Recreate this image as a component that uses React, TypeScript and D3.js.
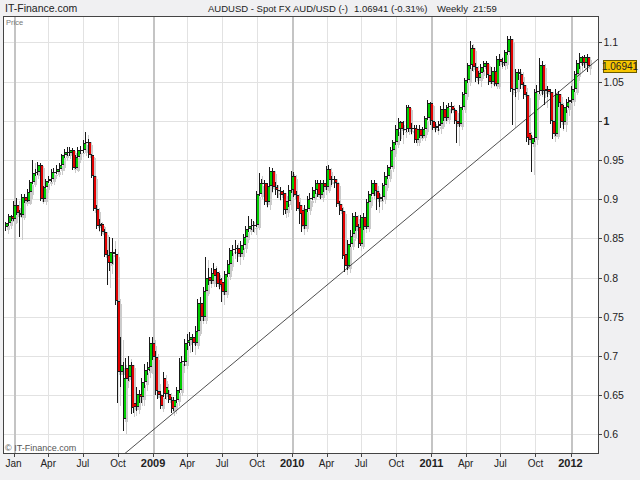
import { useEffect, useRef } from "react";
import * as d3 from "d3";

// weekly candles, first bar dated below, one bar every 7 days
const firstBar = "2007-12-13";

const opens = [
  0.864, 0.869, 0.878, 0.874, 0.893, 0.882, 0.88, 0.903, 0.898, 0.909,
  0.922, 0.933, 0.934, 0.944, 0.9, 0.915, 0.923, 0.926, 0.935, 0.935,
  0.939, 0.943, 0.956, 0.96, 0.959, 0.962, 0.94, 0.954, 0.963, 0.962,
  0.971, 0.973, 0.956, 0.93, 0.887, 0.866, 0.868, 0.858, 0.829, 0.819,
  0.832, 0.83, 0.77, 0.679, 0.62, 0.684, 0.673, 0.688, 0.64, 0.635,
  0.651, 0.648, 0.667, 0.682, 0.686, 0.716, 0.699, 0.655, 0.65, 0.672,
  0.652, 0.652, 0.644, 0.635, 0.644, 0.656, 0.692, 0.692, 0.717, 0.72,
  0.724, 0.717, 0.732, 0.768, 0.749, 0.783, 0.801, 0.796, 0.811, 0.807,
  0.798, 0.794, 0.781, 0.804, 0.817, 0.835, 0.836, 0.838, 0.83, 0.841,
  0.852, 0.862, 0.866, 0.867, 0.867, 0.907, 0.921, 0.92, 0.896, 0.917,
  0.936, 0.915, 0.912, 0.91, 0.908, 0.886, 0.897, 0.912, 0.93, 0.905,
  0.892, 0.886, 0.866, 0.888, 0.9, 0.902, 0.911, 0.92, 0.905, 0.92,
  0.915, 0.939, 0.924, 0.926, 0.92, 0.894, 0.885, 0.83, 0.815, 0.843,
  0.855, 0.879, 0.864, 0.843, 0.877, 0.865, 0.896, 0.907, 0.92, 0.91,
  0.9, 0.903, 0.918, 0.93, 0.941, 0.962, 0.973, 0.99, 0.998, 0.99,
  0.989, 1.017, 0.989, 0.991, 0.976, 0.99, 0.981, 0.989, 1.003, 1.022,
  0.999, 0.991, 0.993, 0.996, 1.015, 1.004, 1.017, 1.019, 1.014, 0.999,
  0.996, 1.018, 1.034, 1.052, 1.071, 1.093, 1.069, 1.055, 1.061, 1.069,
  1.073, 1.058, 1.05, 1.064, 1.047, 1.079, 1.075, 1.074, 1.087, 1.104,
  1.041, 1.04, 1.062, 1.06, 1.045, 1.033, 0.984, 0.97, 0.978, 1.036,
  1.038, 1.071, 1.038, 1.04, 1.036, 1.0, 0.983, 1.034, 1.021, 0.998,
  1.017, 1.024, 1.027, 1.04, 1.06, 1.074, 1.081, 1.074, 1.081,
];

const highs = [
  0.871, 0.881, 0.88, 0.898, 0.902, 0.886, 0.907, 0.906, 0.913, 0.925,
  0.95, 0.938, 0.947, 0.946, 0.917, 0.926, 0.929, 0.938, 0.94, 0.943,
  0.946, 0.958, 0.964, 0.966, 0.966, 0.965, 0.956, 0.966, 0.968, 0.975,
  0.985, 0.977, 0.958, 0.933, 0.892, 0.875, 0.87, 0.862, 0.835, 0.852,
  0.851, 0.836, 0.776, 0.724, 0.692, 0.697, 0.7, 0.692, 0.652, 0.66,
  0.656, 0.672, 0.69, 0.692, 0.724, 0.724, 0.706, 0.668, 0.655, 0.68,
  0.668, 0.656, 0.648, 0.648, 0.66, 0.697, 0.7, 0.722, 0.728, 0.73,
  0.728, 0.738, 0.772, 0.775, 0.788, 0.826, 0.812, 0.812, 0.818, 0.812,
  0.806, 0.8, 0.808, 0.822, 0.838, 0.842, 0.848, 0.842, 0.846, 0.856,
  0.866, 0.879, 0.874, 0.872, 0.91, 0.933, 0.926, 0.924, 0.92, 0.941,
  0.94, 0.922, 0.918, 0.916, 0.912, 0.902, 0.918, 0.936, 0.934, 0.91,
  0.896, 0.89, 0.892, 0.904, 0.908, 0.915, 0.924, 0.924, 0.924, 0.925,
  0.942, 0.944, 0.93, 0.93, 0.924, 0.898, 0.889, 0.838, 0.848, 0.86,
  0.882, 0.884, 0.868, 0.88, 0.882, 0.9, 0.91, 0.924, 0.925, 0.914,
  0.908, 0.921, 0.934, 0.944, 0.966, 0.976, 0.995, 1.003, 1.0, 1.0,
  1.02, 1.02, 0.997, 0.995, 0.995, 0.994, 0.992, 1.006, 1.026, 1.024,
  1.002, 0.998, 1.0, 1.019, 1.024, 1.02, 1.022, 1.024, 1.016, 1.004,
  1.02, 1.037, 1.054, 1.074, 1.102, 1.097, 1.074, 1.064, 1.072, 1.076,
  1.076, 1.062, 1.068, 1.068, 1.083, 1.085, 1.08, 1.09, 1.108, 1.108,
  1.046, 1.066, 1.066, 1.066, 1.05, 1.036, 0.99, 0.982, 1.04, 1.045,
  1.08, 1.076, 1.046, 1.044, 1.04, 1.008, 1.04, 1.038, 1.026, 1.02,
  1.028, 1.03, 1.044, 1.063, 1.078, 1.086, 1.083, 1.084, 1.085,
];

const lows = [
  0.86, 0.866, 0.872, 0.872, 0.88, 0.851, 0.878, 0.895, 0.896, 0.905,
  0.92, 0.929, 0.93, 0.897, 0.896, 0.912, 0.92, 0.922, 0.93, 0.931,
  0.935, 0.94, 0.952, 0.955, 0.955, 0.937, 0.938, 0.95, 0.958, 0.958,
  0.965, 0.953, 0.928, 0.884, 0.862, 0.86, 0.853, 0.826, 0.79, 0.808,
  0.818, 0.765, 0.64, 0.66, 0.604, 0.662, 0.668, 0.626, 0.628, 0.63,
  0.64, 0.64, 0.66, 0.675, 0.68, 0.695, 0.65, 0.645, 0.632, 0.648,
  0.645, 0.64, 0.628, 0.63, 0.64, 0.652, 0.682, 0.688, 0.708, 0.712,
  0.705, 0.712, 0.728, 0.745, 0.745, 0.78, 0.79, 0.792, 0.798, 0.788,
  0.786, 0.77, 0.778, 0.8, 0.812, 0.828, 0.83, 0.82, 0.826, 0.836,
  0.848, 0.858, 0.86, 0.858, 0.864, 0.904, 0.912, 0.892, 0.89, 0.912,
  0.91, 0.906, 0.902, 0.9, 0.88, 0.882, 0.89, 0.908, 0.902, 0.884,
  0.868, 0.858, 0.862, 0.884, 0.894, 0.898, 0.906, 0.902, 0.9, 0.91,
  0.912, 0.92, 0.918, 0.915, 0.89, 0.88, 0.824, 0.807, 0.81, 0.838,
  0.85, 0.86, 0.838, 0.84, 0.86, 0.862, 0.892, 0.903, 0.905, 0.886,
  0.89, 0.898, 0.913, 0.926, 0.938, 0.958, 0.97, 0.98, 0.975, 0.982,
  0.985, 0.985, 0.983, 0.972, 0.972, 0.978, 0.978, 0.985, 1.0, 0.995,
  0.988, 0.985, 0.987, 0.993, 1.0, 1.0, 1.012, 1.01, 0.996, 0.972,
  0.992, 1.014, 1.03, 1.048, 1.066, 1.064, 1.05, 1.048, 1.057, 1.062,
  1.054, 1.046, 1.046, 1.044, 1.045, 1.07, 1.068, 1.07, 1.084, 1.036,
  0.995, 1.03, 1.052, 1.04, 1.028, 0.972, 0.97, 0.935, 0.972, 1.03,
  1.034, 1.033, 1.02, 1.03, 0.995, 0.976, 0.98, 1.018, 0.99, 0.99,
  1.01, 1.016, 1.022, 1.036, 1.055, 1.066, 1.07, 1.068, 1.062,
];

const closes = [
  0.869, 0.878, 0.874, 0.893, 0.882, 0.88, 0.903, 0.898, 0.909, 0.922,
  0.933, 0.934, 0.944, 0.9, 0.915, 0.923, 0.926, 0.935, 0.935, 0.939,
  0.943, 0.956, 0.96, 0.959, 0.962, 0.94, 0.954, 0.963, 0.962, 0.971,
  0.973, 0.956, 0.93, 0.887, 0.866, 0.868, 0.858, 0.829, 0.819, 0.832,
  0.83, 0.77, 0.679, 0.688, 0.672, 0.67, 0.688, 0.634, 0.635, 0.651,
  0.648, 0.667, 0.682, 0.686, 0.716, 0.699, 0.655, 0.65, 0.636, 0.652,
  0.66, 0.644, 0.632, 0.644, 0.656, 0.692, 0.694, 0.717, 0.72, 0.724,
  0.717, 0.732, 0.768, 0.749, 0.783, 0.8, 0.796, 0.806, 0.802, 0.792,
  0.79, 0.781, 0.804, 0.817, 0.835, 0.836, 0.838, 0.83, 0.841, 0.852,
  0.862, 0.866, 0.867, 0.867, 0.907, 0.921, 0.92, 0.896, 0.917, 0.936,
  0.915, 0.912, 0.91, 0.905, 0.886, 0.897, 0.912, 0.93, 0.905, 0.888,
  0.881, 0.866, 0.888, 0.9, 0.902, 0.911, 0.92, 0.905, 0.92, 0.915,
  0.939, 0.924, 0.926, 0.92, 0.894, 0.885, 0.828, 0.815, 0.843, 0.853,
  0.879, 0.864, 0.843, 0.877, 0.865, 0.896, 0.907, 0.92, 0.91, 0.9,
  0.903, 0.918, 0.93, 0.941, 0.962, 0.973, 0.99, 0.998, 0.99, 0.989,
  1.017, 0.989, 0.991, 0.976, 0.99, 0.981, 0.989, 1.003, 1.022, 0.999,
  0.991, 0.993, 0.996, 1.015, 1.004, 1.017, 1.019, 1.014, 0.999, 0.996,
  1.018, 1.034, 1.052, 1.071, 1.093, 1.069, 1.055, 1.061, 1.069, 1.073,
  1.058, 1.05, 1.064, 1.047, 1.079, 1.075, 1.074, 1.087, 1.104, 1.041,
  1.04, 1.062, 1.06, 1.045, 1.033, 0.978, 0.975, 0.978, 1.036, 1.038,
  1.071, 1.038, 1.04, 1.036, 1.0, 0.983, 1.034, 1.023, 0.998, 1.017,
  1.024, 1.027, 1.04, 1.06, 1.074, 1.081, 1.074, 1.081, 1.06941,
];

const priceTicks = [0.6, 0.65, 0.7, 0.75, 0.8, 0.85, 0.9, 0.95, 1, 1.05, 1.1];
const timeLabels = [
  "Jan", "Apr", "Jul", "Oct", "2009", "Apr", "Jul", "Oct", "2010",
  "Apr", "Jul", "Oct", "2011", "Apr", "Jul", "Oct", "2012",
];
// support line, two anchors
const trendDates = ["2008-10-10", "2012-03-18"];
const trendPrices = [0.5718, 1.0804];

const lastPrice = "1.06941";
const titleParts = ["AUDUSD - Spot FX AUD/USD (-)", "1.06941 (-0.31%)", "Weekly", "21:59"];

type Bar = { date: Date; open: number; high: number; low: number; close: number };

export default function App() {
  const ref = useRef<SVGSVGElement | null>(null);

  useEffect(() => {
    const node = ref.current;
    if (!node) return;
    const svg = d3.select(node);
    svg.selectAll("*").remove();

    const width = 640;
    const height = 480;
    const left = 3.5;
    const right = 598.5;
    const top = 16.5;
    const bottom = 453.5;
    const font = "'Liberation Sans', Arial, sans-serif";

    const parse = d3.utcParse("%Y-%m-%d");
    const start = parse(firstBar)!;
    const bars: Bar[] = closes.map((close, i) => ({
      date: d3.utcDay.offset(start, i * 7),
      open: opens[i],
      high: highs[i],
      low: lows[i],
      close,
    }));

    const x = d3
      .scaleUtc()
      .domain([parse("2008-01-01")!, parse("2012-01-01")!])
      .range([13.5, 570.5]);
    const y = d3.scaleLinear().domain([0.6, 1.1]).range([434.3, 42.3]);

    svg.append("rect").attr("width", width).attr("height", height).attr("fill", "#f0f0f2");
    svg
      .append("rect")
      .attr("x", left)
      .attr("y", top)
      .attr("width", right - left)
      .attr("height", bottom - top)
      .attr("fill", "#ffffff");

    const defs = svg.append("defs");
    defs
      .append("clipPath")
      .attr("id", "plot-clip")
      .append("rect")
      .attr("x", left)
      .attr("y", top)
      .attr("width", right - left)
      .attr("height", bottom - top);

    // grid
    const quarterTicks = d3.utcMonth.every(3)!.range(parse("2008-01-01")!, parse("2012-01-02")!);
    const grid = svg.append("g").attr("shape-rendering", "crispEdges");
    grid
      .selectAll("line.h")
      .data(priceTicks)
      .join("line")
      .attr("class", "h")
      .attr("x1", left)
      .attr("x2", right)
      .attr("y1", (d) => Math.round(y(d)) + 0.5)
      .attr("y2", (d) => Math.round(y(d)) + 0.5)
      .attr("stroke", "#e2e2e2");
    grid
      .selectAll("line.v")
      .data(quarterTicks)
      .join("line")
      .attr("class", "v")
      .attr("x1", (d) => Math.round(x(d)) + 0.5)
      .attr("x2", (d) => Math.round(x(d)) + 0.5)
      .attr("y1", top)
      .attr("y2", bottom)
      .attr("stroke", (d) => (d.getUTCMonth() === 0 ? "#c4c4c4" : "#e2e2e2"))
      .attr("stroke-width", (d) => (d.getUTCMonth() === 0 ? 2 : 1));

    const plot = svg.append("g").attr("clip-path", "url(#plot-clip)");

    // soft grey shadow behind each bar
    const shadow = plot.append("g").attr("shape-rendering", "crispEdges").attr("fill", "#cbcbcb");
    shadow
      .selectAll("rect.w")
      .data(bars)
      .join("rect")
      .attr("class", "w")
      .attr("x", (d) => Math.round(x(d.date)) + 2)
      .attr("y", (d) => Math.round(y(d.high)) + 3)
      .attr("width", 1)
      .attr("height", (d) => Math.round(y(d.low) - y(d.high)));
    shadow
      .selectAll("rect.b")
      .data(bars)
      .join("rect")
      .attr("class", "b")
      .attr("x", (d) => Math.round(x(d.date)) + 1)
      .attr("y", (d) => Math.round(y(Math.max(d.open, d.close))) + 3)
      .attr("width", 3)
      .attr("height", (d) => Math.max(1, Math.round(y(Math.min(d.open, d.close)) - y(Math.max(d.open, d.close)))));

    plot
      .append("line")
      .attr("x1", x(parse(trendDates[0])!))
      .attr("y1", y(trendPrices[0]))
      .attr("x2", x(parse(trendDates[1])!))
      .attr("y2", y(trendPrices[1]))
      .attr("stroke", "#222")
      .attr("stroke-width", 0.8);

    // candles: black wick + left edge, coloured body
    const candles = plot.append("g").attr("shape-rendering", "crispEdges");
    const bodyTop = (d: Bar) => Math.round(y(Math.max(d.open, d.close)));
    const bodyBottom = (d: Bar) => Math.max(bodyTop(d) + 1, Math.round(y(Math.min(d.open, d.close))));
    candles
      .selectAll("rect.wick")
      .data(bars)
      .join("rect")
      .attr("class", "wick")
      .attr("x", (d) => Math.round(x(d.date)) - 1)
      .attr("y", (d) => Math.round(y(d.high)))
      .attr("width", 1)
      .attr("height", (d) => Math.max(1, Math.round(y(d.low) - y(d.high))))
      .attr("fill", "#1a1a1a");
    candles
      .selectAll("rect.edge")
      .data(bars)
      .join("rect")
      .attr("class", "edge")
      .attr("x", (d) => Math.round(x(d.date)) - 1)
      .attr("y", bodyTop)
      .attr("width", 3)
      .attr("height", (d) => bodyBottom(d) - bodyTop(d))
      .attr("fill", "#1a1a1a");
    candles
      .selectAll("rect.body")
      .data(bars.filter((d) => bodyBottom(d) - bodyTop(d) > 2))
      .join("rect")
      .attr("class", "body")
      .attr("x", (d) => Math.round(x(d.date)))
      .attr("y", (d) => bodyTop(d) + 1)
      .attr("width", 2)
      .attr("height", (d) => bodyBottom(d) - bodyTop(d) - 2)
      .attr("fill", (d) => (d.close >= d.open ? "#00cc00" : "#e00000"));

    // frame
    svg
      .append("rect")
      .attr("x", left)
      .attr("y", top)
      .attr("width", right - left)
      .attr("height", bottom - top)
      .attr("fill", "none")
      .attr("stroke", "#444")
      .attr("shape-rendering", "crispEdges");

    // right price axis
    const yAxis = svg.append("g").attr("font-family", font).attr("font-size", 10.5);
    yAxis
      .selectAll("line")
      .data(priceTicks)
      .join("line")
      .attr("x1", right)
      .attr("x2", right + 3)
      .attr("y1", (d) => Math.round(y(d)) + 0.5)
      .attr("y2", (d) => Math.round(y(d)) + 0.5)
      .attr("stroke", "#444")
      .attr("shape-rendering", "crispEdges");
    yAxis
      .selectAll("text")
      .data(priceTicks)
      .join("text")
      .attr("x", right + 5)
      .attr("y", (d) => y(d) + 4)
      .attr("fill", "#222")
      .attr("font-weight", (d) => (d === 1 ? "bold" : "normal"))
      .text((d) => d3.format("~g")(d));

    // current price tag
    const tagY = y(closes[closes.length - 1]);
    svg
      .append("rect")
      .attr("x", 603.5)
      .attr("y", Math.round(tagY) - 5.5)
      .attr("width", 33)
      .attr("height", 12)
      .attr("fill", "#f7c600")
      .attr("stroke", "#6a5a00")
      .attr("shape-rendering", "crispEdges");
    svg
      .append("text")
      .attr("x", 620)
      .attr("y", Math.round(tagY) + 4)
      .attr("text-anchor", "middle")
      .attr("font-family", font)
      .attr("font-size", 10)
      .attr("fill", "#222")
      .text(lastPrice);

    // bottom time axis
    const xAxis = svg.append("g").attr("font-family", font).attr("font-size", 10);
    xAxis
      .selectAll("line")
      .data(quarterTicks)
      .join("line")
      .attr("x1", (d) => Math.round(x(d)) + 0.5)
      .attr("x2", (d) => Math.round(x(d)) + 0.5)
      .attr("y1", bottom)
      .attr("y2", bottom + 3)
      .attr("stroke", "#444")
      .attr("shape-rendering", "crispEdges");
    xAxis
      .selectAll("text")
      .data(quarterTicks)
      .join("text")
      .attr("x", (d) => x(d))
      .attr("y", 467)
      .attr("text-anchor", "middle")
      .attr("fill", "#222")
      .attr("font-weight", (_d, i) => (/^\d/.test(timeLabels[i]) ? "bold" : "normal"))
      .attr("font-size", (_d, i) => (/^\d/.test(timeLabels[i]) ? 11 : 10))
      .text((_d, i) => timeLabels[i]);

    // header and small captions
    svg
      .append("text")
      .attr("x", 5)
      .attr("y", 12)
      .attr("font-family", font)
      .attr("font-size", 10.5)
      .attr("fill", "#222")
      .text("IT-Finance.com");
    const titleX = [208, 354, 437, 473];
    svg
      .append("g")
      .attr("font-family", font)
      .attr("font-size", 9.5)
      .attr("fill", "#222")
      .selectAll("text")
      .data(titleParts)
      .join("text")
      .attr("x", (_d, i) => titleX[i])
      .attr("y", 12)
      .text((d) => d);
    svg
      .append("text")
      .attr("x", 6)
      .attr("y", 25)
      .attr("font-family", font)
      .attr("font-size", 7.5)
      .attr("fill", "#777")
      .text("Price");
    svg
      .append("text")
      .attr("x", 5)
      .attr("y", 451)
      .attr("font-family", font)
      .attr("font-size", 9)
      .attr("fill", "#555")
      .text("© IT-Finance.com");
  }, []);

  return (
    <svg
      ref={ref}
      width={640}
      height={480}
      style={{ position: "absolute", left: 0, top: 0, display: "block" }}
    />
  );
}
